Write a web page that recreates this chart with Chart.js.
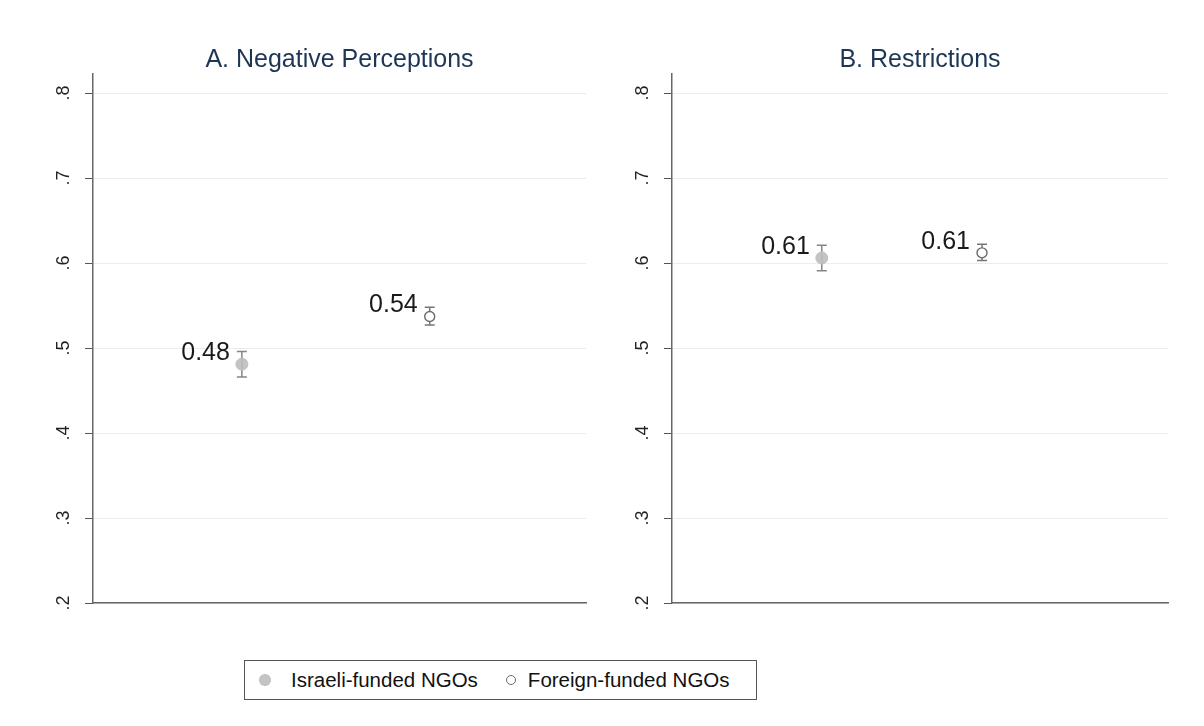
<!DOCTYPE html>
<html>
<head>
<meta charset="utf-8">
<script src="https://cdn.jsdelivr.net/npm/chart.js@4.4.1/dist/chart.umd.min.js"></script>
<style>
  html, body { margin: 0; padding: 0; background: #ffffff; }
  body { width: 1204px; height: 726px; position: relative; overflow: hidden; font-family: "Liberation Sans", Arial, sans-serif; }
  .panel { position: absolute; top: 0; width: 602px; height: 640px; }
  #legend {
    position: absolute; left: 244px; top: 660px; width: 511px; height: 38px;
    border: 1.5px solid #555; box-sizing: content-box;
    display: flex; align-items: center; font-size: 20.5px; color: #111;
  }
  .item { display: flex; align-items: center; }
  .dot { border-radius: 50%; box-sizing: border-box; }
</style>
</head>
<body>
<div class="panel" style="left:0"><canvas id="panelA"></canvas></div>
<div class="panel" style="left:602px"><canvas id="panelB"></canvas></div>
<div id="legend"></div>

<script>
// Panel titles and group names
const panelTitles = ['A. Negative Perceptions', 'B. Restrictions'];
const groups = ['Israeli-funded NGOs', 'Foreign-funded NGOs'];

// Horizontal placement of each group within a panel (0..1 of the panel width)
const xPosA = [0.302, 0.683];
const xPosB = [0.302, 0.625];

// Panel A: negative perceptions — means and 95% CI bounds
const meanA = [0.481, 0.537];
const lowA  = [0.466, 0.527];
const highA = [0.496, 0.548];

// Panel B: restrictions — means and 95% CI bounds
const meanB = [0.606, 0.612];
const lowB  = [0.591, 0.603];
const highB = [0.621, 0.622];

// Y axis ticks
const yTicks = [0.2, 0.3, 0.4, 0.5, 0.6, 0.7, 0.8];
const yMin = 0.2, yMax = 0.8224;

const FONT = '"Liberation Sans", Arial, sans-serif';
const markerStyles = [
  { fill: 'rgba(190,190,190,0.9)', stroke: 'rgba(190,190,190,0.9)', radius: 6, borderWidth: 1, bar: '#858585' },
  { fill: '#ffffff', stroke: '#6a6a6a', radius: 5, borderWidth: 1.4, bar: '#777777' }
];

// Draws CI whiskers, value labels, rotated y tick labels and the panel title
const panelDecor = {
  id: 'panelDecor',
  beforeDatasetsDraw(chart, args, opts) {
    const ctx = chart.ctx, y = chart.scales.y, x = chart.scales.x;
    ctx.save();
    chart.data.datasets.forEach((ds, i) => {
      const px = x.getPixelForValue(ds.data[0].x);
      const top = y.getPixelForValue(opts.high[i]);
      const bot = y.getPixelForValue(opts.low[i]);
      ctx.strokeStyle = markerStyles[i].bar;
      ctx.lineWidth = 1.5;
      ctx.beginPath();
      ctx.moveTo(px, top); ctx.lineTo(px, bot);
      ctx.moveTo(px - 5, top); ctx.lineTo(px + 5, top);
      ctx.moveTo(px - 5, bot); ctx.lineTo(px + 5, bot);
      ctx.stroke();
    });
    ctx.restore();
  },
  afterDatasetsDraw(chart, args, opts) {
    const ctx = chart.ctx, y = chart.scales.y, x = chart.scales.x;
    const area = chart.chartArea;
    ctx.save();
    // value labels
    ctx.font = '25px ' + FONT;
    ctx.fillStyle = '#1a1a1a';
    ctx.textAlign = 'right';
    ctx.textBaseline = 'middle';
    chart.data.datasets.forEach((ds) => {
      const p = ds.data[0];
      ctx.fillText(p.y.toFixed(2), x.getPixelForValue(p.x) - 12, y.getPixelForValue(p.y) - 11);
    });
    // rotated y tick labels
    ctx.font = '18px ' + FONT;
    ctx.fillStyle = '#222';
    ctx.textAlign = 'center';
    yTicks.forEach(v => {
      const py = y.getPixelForValue(v);
      ctx.save();
      ctx.translate(area.left - 29, py);
      ctx.rotate(-Math.PI / 2);
      ctx.fillText(v.toFixed(1).replace(/^0/, ''), 0, 0);
      ctx.restore();
    });
    // panel title
    ctx.font = '25px ' + FONT;
    ctx.fillStyle = '#1e3656';
    ctx.textAlign = 'center';
    ctx.fillText(opts.title, (area.left + area.right) / 2, 60);
    ctx.restore();
  }
};

function makePanel(id, title, xPos, mean, low, high, padLeft, padRight) {
  const datasets = groups.map((g, i) => ({
    label: g,
    data: [{ x: xPos[i], y: mean[i] }],
    backgroundColor: markerStyles[i].fill,
    borderColor: markerStyles[i].stroke,
    borderWidth: markerStyles[i].borderWidth,
    pointRadius: markerStyles[i].radius,
    pointHoverRadius: markerStyles[i].radius
  }));
  return new Chart(document.getElementById(id), {
    type: 'scatter',
    data: { datasets },
    options: {
      responsive: true,
      maintainAspectRatio: false,
      animation: false,
      events: [],
      layout: { padding: { left: padLeft, right: padRight, top: 74, bottom: 37 } },
      plugins: {
        legend: { display: false },
        tooltip: { enabled: false },
        panelDecor: { title, low, high }
      },
      scales: {
        x: {
          type: 'linear', min: 0, max: 1,
          ticks: { display: false },
          grid: { display: false },
          border: { display: true, color: '#666', width: 1.5 },
          afterFit(s) { s.height = 0; }
        },
        y: {
          type: 'linear', min: yMin, max: yMax,
          afterBuildTicks(s) { s.ticks = yTicks.map(v => ({ value: v })); },
          ticks: { display: false },
          grid: { color: '#ececec', lineWidth: 1, tickColor: '#555', tickLength: 8, drawTicks: true },
          border: { display: true, color: '#666', width: 1.5 },
          afterFit(s) { s.width = 0; }
        }
      }
    },
    plugins: [panelDecor]
  });
}

makePanel('panelA', panelTitles[0], xPosA, meanA, lowA, highA, 93, 16);
makePanel('panelB', panelTitles[1], xPosB, meanB, lowB, highB, 70, 36);

// Legend
const legend = document.getElementById('legend');
const legendLayout = [
  { gapBefore: 14, size: 12, textGap: 20 },
  { gapBefore: 28, size: 10, textGap: 12 }
];
groups.forEach((g, i) => {
  const item = document.createElement('div');
  item.className = 'item';
  item.style.marginLeft = legendLayout[i].gapBefore + 'px';
  const dot = document.createElement('span');
  dot.className = 'dot';
  dot.style.width = dot.style.height = legendLayout[i].size + 'px';
  dot.style.marginRight = legendLayout[i].textGap + 'px';
  dot.style.background = markerStyles[i].fill;
  dot.style.border = markerStyles[i].borderWidth + 'px solid ' + markerStyles[i].stroke;
  const txt = document.createElement('span');
  txt.textContent = g;
  item.appendChild(dot); item.appendChild(txt);
  legend.appendChild(item);
});
</script>
</body>
</html>
